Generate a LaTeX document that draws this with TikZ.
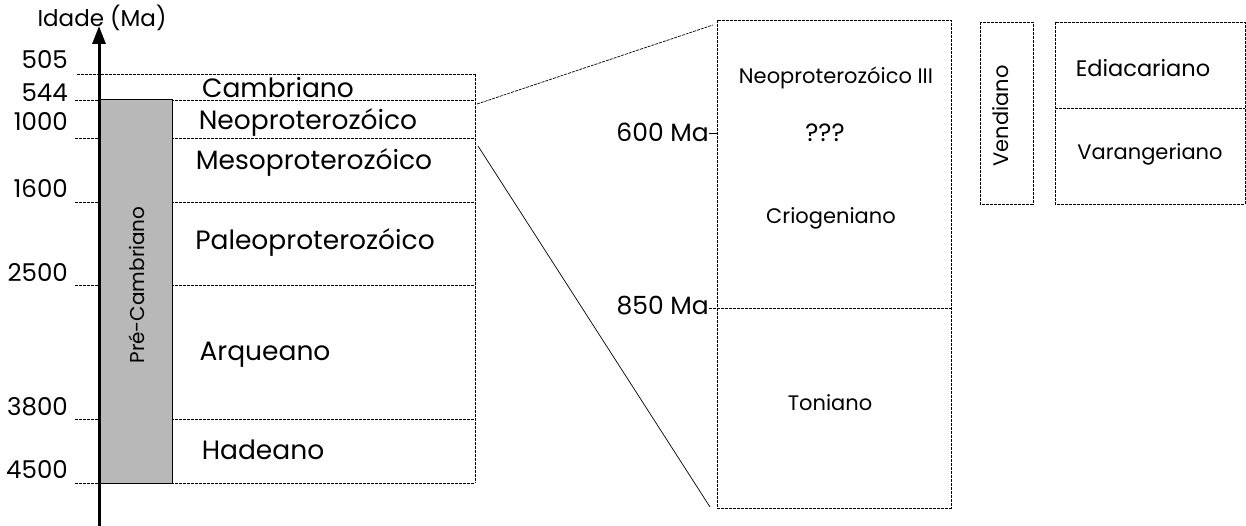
\documentclass[tikz,border=0pt]{standalone}
\usepackage{fontspec}
\setmainfont{Poppins}
\usetikzlibrary{arrows.meta}
\begin{document}
\begin{tikzpicture}[x=1pt,y=-1pt,
  lbl/.style={font=\fontsize{26.5}{26.5}\selectfont, inner sep=0pt},
  num/.style={font=\fontsize{24.5}{24.5}\selectfont, inner sep=0pt, anchor=east},
  sm/.style={font=\fontsize{21}{21}\selectfont, inner sep=0pt},
  ma/.style={font=\fontsize{25}{25}\selectfont, inner sep=0pt, anchor=east},
  dl/.style={line width=0.8pt, dash pattern=on 3pt off 1pt},
  conn/.style={line width=0.7pt},
  ]
\useasboundingbox (0,0) rectangle (1246,526);
% main column
\draw[dl] (77,74) -- (475,74);
\foreach \yy in {100,138,202,285,419,483} \draw[dl] (75,\yy) -- (475,\yy);
\draw[dl] (475,74) -- (475,483);
\filldraw[fill=black!28, draw=black, line width=1pt] (99,100) rectangle (172,483);
\node[rotate=90, font=\fontsize{20}{20}\selectfont, inner sep=0pt] (pre) at (137,285) {Pré-Cambriano};
% axis
\coordinate (axb) at (99,526);
\coordinate (axt) at (99,26);
\draw[line width=3pt, -{Triangle[length=18pt,width=13pt]}] (axb) -- (axt);
\node[font=\fontsize{23}{23}\selectfont, inner sep=0pt] (idade) at (102,18) {Idade (Ma)};
% ages
\node[num] (n505) at (68,60) {505};
\node[num] (n544) at (68,93) {544};
\node[num] (n1000) at (68,122) {1000};
\node[num] (n1600) at (68,188) {1600};
\node[num] (n2500) at (68,273) {2500};
\node[num] (n3800) at (68,407) {3800};
\node[num] (n4500) at (68,470) {4500};
% eras
\node[lbl] (camb) at (278,88) {Cambriano};
\node[lbl] (neo) at (308,122) {Neoproterozóico};
\node[lbl] (meso) at (314,162) {Mesoproterozóico};
\node[lbl] (paleo) at (315,242) {Paleoproterozóico};
\node[lbl] (arq) at (265,355) {Arqueano};
\node[lbl] (had) at (263,450) {Hadeano};
% detail box
\draw[dl] (717,20) rectangle (951,508);
\draw[dl] (709,308) -- (951,308);
\draw[conn] (709,133) -- (717,133);
\node[ma] (m600) at (709,132) {600 Ma};
\node[ma] (m850) at (709,306) {850 Ma};
\node[sm] (neo3) at (836,78) {Neoproterozóico III};
\node[sm, font=\fontsize{25}{25}\selectfont] (qqq) at (825,133) {???};
\node[sm] (crio) at (831,218) {Criogeniano};
\node[sm] (ton) at (830,403) {Toniano};
% connectors
\coordinate (zt) at (477,104);
\coordinate (zb) at (478,146);
\coordinate (dt) at (713,25);
\coordinate (db) at (710,507);
\draw[conn, dash pattern=on 3pt off 1pt] (zt) -- (dt);
\draw[conn] (zb) -- (db);
% Vendiano
\draw[dl] (980,22) rectangle (1033,204);
\node[rotate=90, font=\fontsize{21}{21}\selectfont, inner sep=0pt] (vend) at (1001,116) {Vendiano};
% Ediacariano / Varangeriano
\draw[dl] (1055,22) rectangle (1245,204);
\draw[dl] (1055,108) -- (1245,108);
\node[sm, font=\fontsize{22.5}{22.5}\selectfont] (edi) at (1143,68) {Ediacariano};
\node[sm] (var) at (1150,154) {Varangeriano};
\end{tikzpicture}
\end{document}
